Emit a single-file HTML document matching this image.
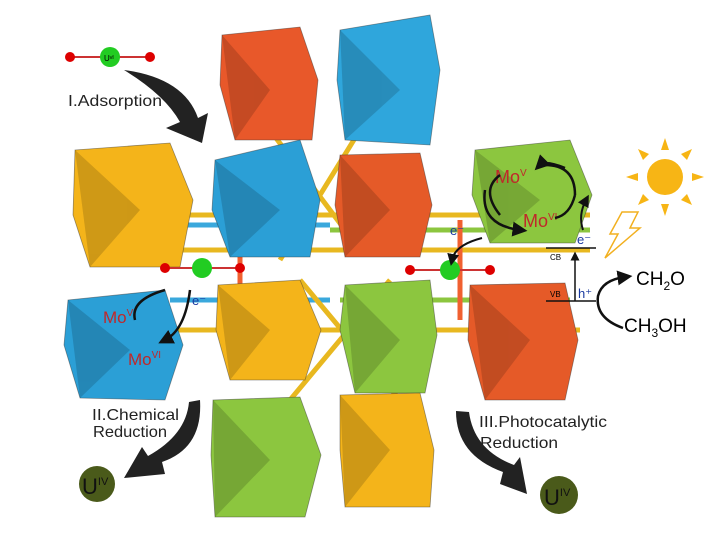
<!DOCTYPE html><html><head><style>body{margin:0;background:#fff}svg{display:block}text{font-family:"Liberation Sans",sans-serif}</style></head><body>
<svg width="720" height="541" viewBox="0 0 720 541" xmlns="http://www.w3.org/2000/svg">
<defs><marker id="ah" markerWidth="6" markerHeight="6" refX="3" refY="3" orient="auto"><path d="M0,0L6,3L0,6z" fill="#111"/></marker></defs>
<g stroke-width="5" fill="none">
<path d="M130,215H590M130,250H590M150,330H580" stroke="#e8b820"/>
<path d="M140,225H330M170,300H330" stroke="#3aa8dc"/>
<path d="M330,230H590M340,300H570" stroke="#8cc63f"/>
<path d="M270,130L360,250M360,130L280,260M300,280L400,400M390,280L290,400" stroke="#e8b820"/>
<path d="M240,230V300M460,220V320" stroke="#f06030"/>
</g>
<g stroke="#333" stroke-width="0.8" stroke-opacity="0.5">
<polygon points="222,35 300,27 318,80 312,140 235,140 220,85" fill="#e8582a"/>
<polygon points="340,30 430,15 440,70 430,145 345,140 337,80" fill="#2fa6dc"/>
<polygon points="75,150 170,143 193,200 180,267 90,267 73,215" fill="#f4b41a"/>
<polygon points="215,160 300,140 320,200 310,257 230,257 212,210" fill="#2b9fd6"/>
<polygon points="340,155 420,153 432,205 420,257 345,257 335,205" fill="#e55a28"/>
<polygon points="475,150 570,140 592,195 575,243 490,243 472,195" fill="#8cc63f"/>
<polygon points="68,300 165,290 183,345 165,400 80,398 64,345" fill="#2b9fd6"/>
<polygon points="218,285 300,280 321,330 305,380 230,380 216,330" fill="#f4b41a"/>
<polygon points="345,285 430,280 437,335 425,393 355,393 340,330" fill="#8cc63f"/>
<polygon points="470,285 565,283 578,340 565,400 485,400 468,340" fill="#e55a28"/>
<polygon points="213,400 300,397 321,455 305,517 215,517 211,455" fill="#8cc63f"/>
<polygon points="340,395 420,393 434,450 430,507 345,507 340,450" fill="#f4b41a"/>
</g>
<g fill="#000" opacity="0.15">
<polygon points="222,35 270,90 235,140"/><polygon points="340,30 400,90 345,140"/><polygon points="75,150 140,210 90,267"/>
<polygon points="215,160 280,210 230,257"/><polygon points="340,155 390,210 345,257"/><polygon points="475,150 540,200 490,243"/>
<polygon points="68,300 130,350 80,398"/><polygon points="218,285 270,330 230,380"/><polygon points="345,285 400,340 355,393"/>
<polygon points="470,285 530,340 485,400"/><polygon points="213,400 270,460 215,517"/><polygon points="340,395 390,450 345,507"/>
</g>
<g><line x1="70" y1="57" x2="150" y2="57" stroke="#c33" stroke-width="2"/><circle cx="70" cy="57" r="5" fill="#d00"/><circle cx="150" cy="57" r="5" fill="#d00"/><circle cx="110" cy="57" r="10" fill="#2c2"/><text x="104" y="61" font-size="8">Uᵛᴵ</text></g>
<g><line x1="165" y1="268" x2="240" y2="268" stroke="#c33" stroke-width="2"/><circle cx="165" cy="268" r="5" fill="#d00"/><circle cx="240" cy="268" r="5" fill="#d00"/><circle cx="202" cy="268" r="10" fill="#2c2"/></g>
<g><line x1="410" y1="270" x2="490" y2="270" stroke="#c33" stroke-width="2"/><circle cx="410" cy="270" r="5" fill="#d00"/><circle cx="490" cy="270" r="5" fill="#d00"/><circle cx="450" cy="270" r="10" fill="#2c2"/></g>
<path d="M124,70 Q184,78 198,118 L208,113 L202,143 L166,128 L180,122 Q165,95 124,70z" fill="#222"/>
<path d="M200,400 Q203,448 162,462 L165,474 L124,478 L142,447 L148,456 Q186,435 189,402z" fill="#222"/>
<path d="M456,411 Q456,455 503,472 L500,484 L527,494 L520,457 L514,465 Q474,450 469,412z" fill="#222"/>
<text x="68" y="106" font-size="16" textLength="94" lengthAdjust="spacingAndGlyphs" fill="#222">I.Adsorption</text>
<text x="92" y="420" font-size="16" textLength="87" lengthAdjust="spacingAndGlyphs" fill="#222">II.Chemical</text><text x="93" y="437" font-size="16" textLength="74" lengthAdjust="spacingAndGlyphs" fill="#222">Reduction</text>
<text x="479" y="427" font-size="16" textLength="128" lengthAdjust="spacingAndGlyphs" fill="#222">III.Photocatalytic</text><text x="480" y="448" font-size="16" textLength="78" lengthAdjust="spacingAndGlyphs" fill="#222">Reduction</text>
<circle cx="97" cy="484" r="18" fill="#4a5a1a"/><text x="82" y="494" font-size="22" fill="#111">U<tspan font-size="11" dy="-9">IV</tspan></text>
<circle cx="559" cy="495" r="19" fill="#4a5a1a"/><text x="544" y="505" font-size="22" fill="#111">U<tspan font-size="11" dy="-9">IV</tspan></text>
<text x="103" y="323" font-size="17" fill="#c0282a">Mo<tspan font-size="10" dy="-7">V</tspan></text>
<text x="128" y="365" font-size="17" fill="#c0282a">Mo<tspan font-size="10" dy="-7">VI</tspan></text>
<text x="495" y="183" font-size="18" fill="#c0282a">Mo<tspan font-size="10" dy="-7">V</tspan></text>
<text x="523" y="227" font-size="18" fill="#c0282a">Mo<tspan font-size="10" dy="-7">VI</tspan></text>
<text x="192" y="305" font-size="13" fill="#1a3aa0">e⁻</text>
<text x="450" y="235" font-size="13" fill="#1a3aa0">e⁻</text>
<path d="M500,215 Q480,190 500,175 M545,165 Q575,165 575,195" fill="none" stroke="#111" stroke-width="2.5"/>
<path d="M575,195 Q570,215 555,218" fill="none" stroke="#111" stroke-width="2.5"/>
<path d="M565,168 Q545,160 540,165" fill="none" stroke="#111" stroke-width="2.5" marker-end="url(#ah)"/>
<path d="M485,190 Q480,225 520,230" fill="none" stroke="#111" stroke-width="2.5" marker-end="url(#ah)"/>
<path d="M583,230 Q578,215 586,200" fill="none" stroke="#111" stroke-width="2" marker-end="url(#ah)"/>
<path d="M482,238 Q455,245 452,260" fill="none" stroke="#111" stroke-width="2" marker-end="url(#ah)"/>
<path d="M165,290 Q130,300 135,320" fill="none" stroke="#111" stroke-width="2.5"/>
<path d="M190,290 Q185,330 165,340" fill="none" stroke="#111" stroke-width="2.5" marker-end="url(#ah)"/>
<line x1="546" y1="248" x2="596" y2="248" stroke="#111" stroke-width="1.5"/>
<line x1="546" y1="301" x2="596" y2="301" stroke="#111" stroke-width="1.5"/>
<line x1="575" y1="301" x2="575" y2="256" stroke="#111" stroke-width="1.5" marker-end="url(#ah)"/>
<text x="550" y="260" font-size="8">CB</text><text x="550" y="297" font-size="8">VB</text>
<text x="577" y="244" font-size="13" fill="#1a3aa0">e⁻</text>
<text x="578" y="298" font-size="13" fill="#1a3aa0">h⁺</text>
<path d="M623,328 Q595,318 598,296 Q602,280 625,277" fill="none" stroke="#111" stroke-width="2.5" marker-end="url(#ah)"/>
<text x="636" y="285" font-size="19">CH<tspan font-size="12" dy="5">2</tspan><tspan dy="-5">O</tspan></text>
<text x="624" y="332" font-size="19">CH<tspan font-size="12" dy="5">3</tspan><tspan dy="-5">OH</tspan></text>
<circle cx="665" cy="177" r="18" fill="#f7b515"/>
<g fill="#f7b515"><polygon points="661,150 669,150 665,138"/><polygon points="661,204 669,204 665,216"/><polygon points="638,173 638,181 626,177"/><polygon points="692,173 692,181 704,177"/><polygon points="643,160 649,154 638,149"/><polygon points="681,200 687,194 692,205"/><polygon points="681,154 687,160 692,149"/><polygon points="643,194 649,200 638,205"/></g>
<path d="M622,212 L638,212 L630,228 L640,228 L605,258 L618,234 L610,234z" fill="#fff" stroke="#f2b020" stroke-width="1.5"/>
</svg></body></html>
